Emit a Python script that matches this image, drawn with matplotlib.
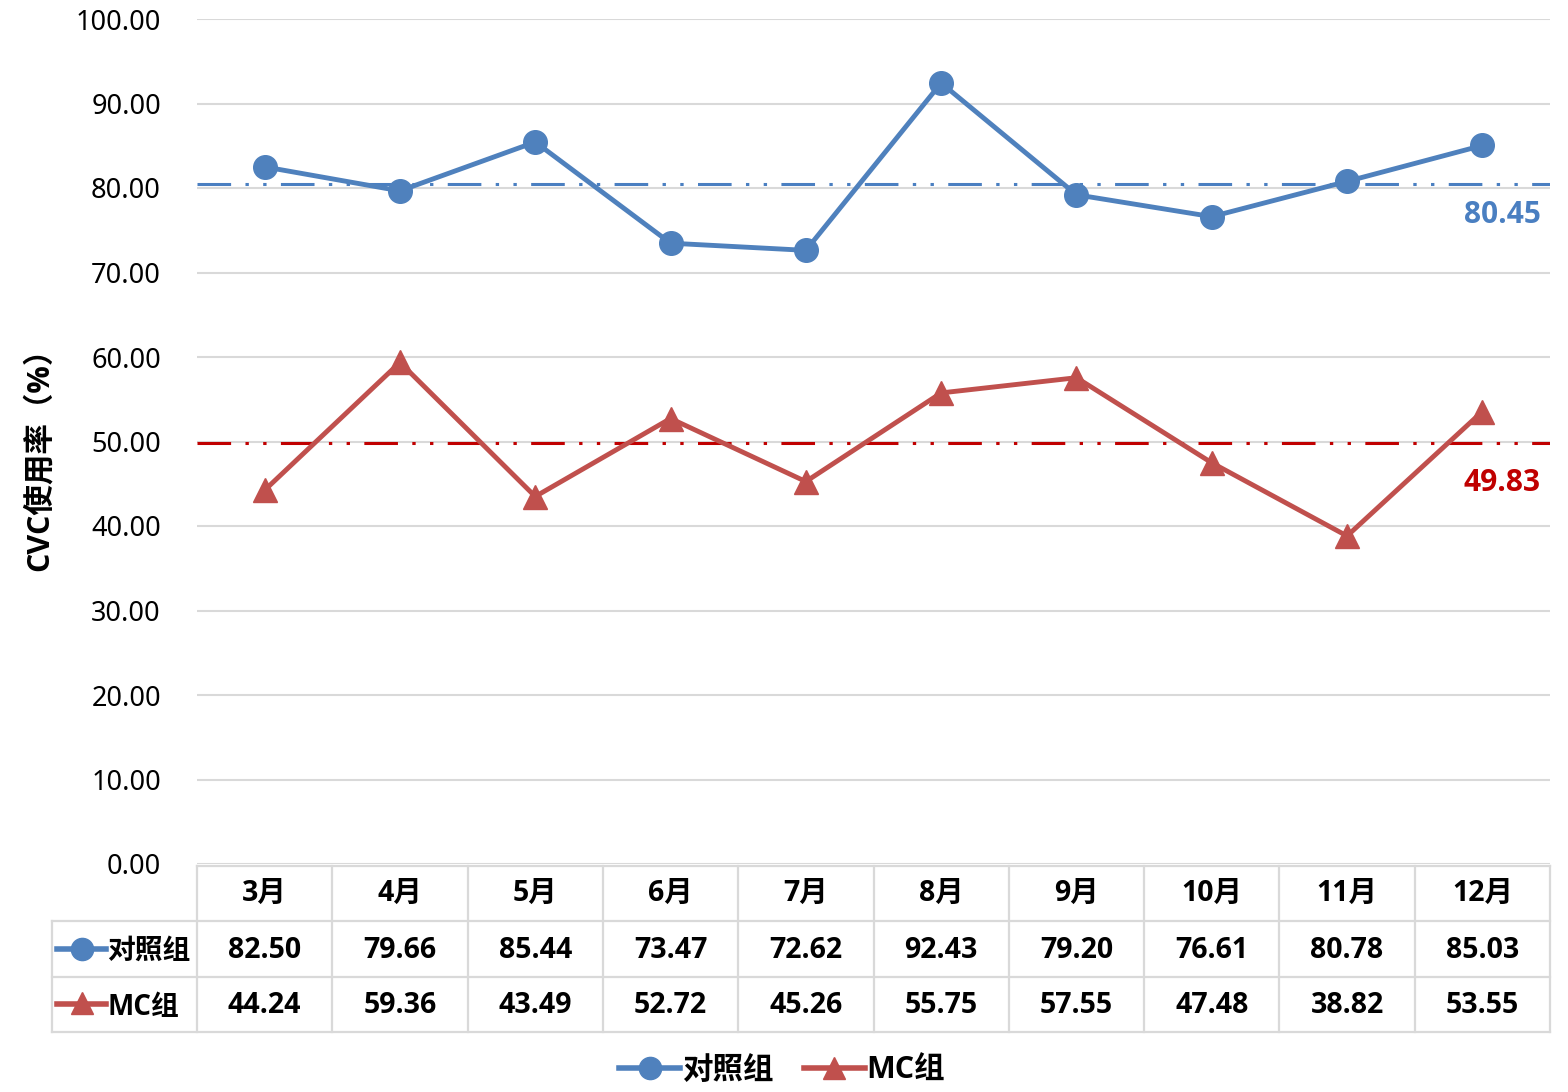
import numpy as np
import matplotlib
matplotlib.use("Agg")
import matplotlib.pyplot as plt
from matplotlib.lines import Line2D

plt.rcParams['font.family'] = ['Noto Sans', 'Noto Sans CJK SC', 'DejaVu Sans']
bold_fam = ['Open Sans', 'Noto Sans CJK SC', 'DejaVu Sans']

months = ['3月', '4月', '5月', '6月', '7月', '8月', '9月', '10月', '11月', '12月']
control = [82.50, 79.66, 85.44, 73.47, 72.62, 92.43, 79.20, 76.61, 80.78, 85.03]
mc = [44.24, 59.36, 43.49, 52.72, 45.26, 55.75, 57.55, 47.48, 38.82, 53.55]
control_avg = 80.45
mc_avg = 49.83
series_names = ['对照组', 'MC组']

blue = '#4f81bd'
red = '#c0504d'
avg_blue = '#4a7fc1'
avg_red = '#c00000'
grid_c = '#d9d9d9'

W, H = 1568, 1092
fig = plt.figure(figsize=(W / 100, H / 100), dpi=100)

# plot area in pixels
L, R, T, B = 197, 1550, 19, 864
ax = fig.add_axes([L / W, 1 - B / H, (R - L) / W, (B - T) / H])
x = np.arange(len(months))
ax.set_xlim(-0.5, len(months) - 0.5)
ax.set_ylim(0, 100)
ax.set_yticks(np.arange(0, 101, 10))
ax.set_yticklabels([f'{v:.2f}' for v in np.arange(0, 101, 10)], fontsize=19.5)
ax.set_xticks([])
ax.tick_params(axis='y', length=0, pad=26)
for s in ax.spines.values():
    s.set_visible(False)
ax.grid(axis='y', color=grid_c, lw=1.5)
ax.set_axisbelow(True)

dash = (0, (11, 4.7, 1.1, 4.7, 1.1, 4.7))
ax.axhline(control_avg, color=avg_blue, lw=2.2, linestyle=dash, zorder=2)
ax.axhline(mc_avg, color=avg_red, lw=2.2, linestyle=dash, zorder=2)

ax.plot(x, control, color=blue, lw=3.5, marker='o', markersize=17, zorder=3)
ax.plot(x, mc, color=red, lw=3.5, marker='^', markersize=17, zorder=3)

ax.text(9.43, control_avg - 3.6, f'{control_avg:.2f}', color=avg_blue, fontsize=21.5,
        fontweight='bold', family=bold_fam, ha='right', va='center')
ax.text(9.43, mc_avg - 4.8, f'{mc_avg:.2f}', color=avg_red, fontsize=21.5,
        fontweight='bold', family=bold_fam, ha='right', va='center')

fig.text(40 / W, 1 - 452 / H, 'CVC使用率（%）', rotation=90, fontsize=22,
         fontweight='bold', family=bold_fam, ha='center', va='center')

# data table
TT, TB = 866, 1032
tax = fig.add_axes([L / W, 1 - TB / H, (R - L) / W, (TB - TT) / H])
tax.set_xlim(-0.5, len(months) - 0.5)
tax.set_ylim(0, 3)
tax.axis('off')
cw = (R - L) / len(months)
xl = -0.5 - (L - 52) / cw
lkw = dict(color=grid_c, lw=1.6, clip_on=False)
tax.plot([-0.5, 9.5], [3, 3], **lkw)
for yy in [2, 1, 0]:
    tax.plot([xl, 9.5], [yy, yy], **lkw)
tax.plot([xl, xl], [0, 2], **lkw)
for i in range(len(months) + 1):
    tax.plot([i - 0.5, i - 0.5], [0, 3], **lkw)

tkw = dict(ha='center', va='center', fontsize=20.5, fontweight='bold', family=bold_fam)
for i, m in enumerate(months):
    tax.text(i, 2.5, m, **tkw)
    tax.text(i, 1.48, f'{control[i]:.2f}', **tkw)
    tax.text(i, 0.48, f'{mc[i]:.2f}', **tkw)

kx = [xl + 0.04, xl + 0.4]
tax.plot(kx, [1.5, 1.5], color=blue, lw=4, clip_on=False)
tax.plot([np.mean(kx)], [1.5], color=blue, marker='o', markersize=16, clip_on=False)
tax.plot(kx, [0.5, 0.5], color=red, lw=4, clip_on=False)
tax.plot([np.mean(kx)], [0.53], color=red, marker='^', markersize=16, clip_on=False)
tax.text(xl + 0.41, 1.45, series_names[0], ha='left', va='center', fontsize=20,
         fontweight='bold', family=bold_fam)
tax.text(xl + 0.41, 0.45, series_names[1], ha='left', va='center', fontsize=20,
         fontweight='bold', family=bold_fam)

handles = [Line2D([], [], color=blue, lw=4, marker='o', markersize=16),
           Line2D([], [], color=red, lw=4, marker='^', markersize=16)]
fig.legend(handles, series_names, loc='center', bbox_to_anchor=(782 / W, 1 - 1071 / H),
           ncol=2, frameon=False, handlelength=2.0, handletextpad=0.05, columnspacing=1.0,
           prop={'size': 22, 'weight': 'bold', 'family': bold_fam})

fig.savefig('out.png', dpi=100)
